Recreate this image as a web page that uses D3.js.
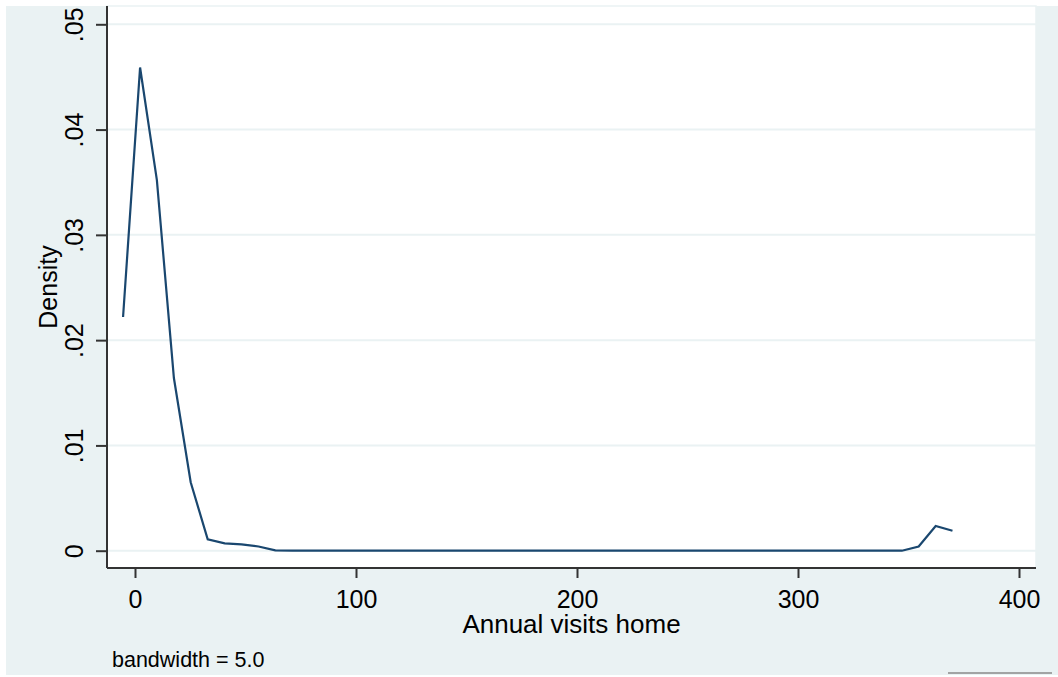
<!DOCTYPE html>
<html>
<head>
<meta charset="utf-8">
<script src="https://cdn.jsdelivr.net/npm/d3@7"></script>
<style>
    body { margin: 0; background: #ffffff; }
    text { font-family: "Liberation Sans", Arial, sans-serif; fill: #000000; }
</style>
</head>
<body>
<div class="chartCanvas"></div>
<script>
// kernel density evaluation points (annual visits home)
const visits = [
    -5.4, 2.3, 9.9, 17.6, 25.2, 32.9, 40.6, 48.2, 55.9, 63.5,
    71.2, 78.9, 86.5, 94.2, 101.8, 109.5, 117.2, 124.8, 132.5, 140.1,
    147.8, 155.5, 163.1, 170.8, 178.4, 186.1, 193.8, 201.4, 209.1, 216.7,
    224.4, 232.1, 239.7, 247.4, 255.0, 262.7, 270.4, 278.0, 285.7, 293.3,
    301.0, 308.7, 316.3, 324.0, 331.6, 339.3, 347.0, 354.6, 362.3, 369.9
];
const density = [
    0.0222, 0.0459, 0.0352, 0.0164, 0.0065, 0.00108, 0.0007, 0.0006, 0.0004, 0.00003,
    0, 0, 0, 0, 0, 0, 0, 0, 0, 0,
    0, 0, 0, 0, 0, 0, 0, 0, 0, 0,
    0, 0, 0, 0, 0, 0, 0, 0, 0, 0,
    0, 0, 0, 0, 0, 0, 0, 0.0004, 0.00235, 0.0019
];
const xTicks = [0, 100, 200, 300, 400];
const yTicks = [0, 0.01, 0.02, 0.03, 0.04, 0.05];
const yTickLabels = ["0", ".01", ".02", ".03", ".04", ".05"];
const xTitle = "Annual visits home";
const yTitle = "Density";
const note = "bandwidth = 5.0";

const W = 1058, H = 677;
const bg = "#eaf2f3";
const plot = {left: 107, right: 1036, top: 6, bottom: 568};

const svg = d3.select(".chartCanvas").append("svg")
    .attr("width", W)
    .attr("height", H);

// outer graph region + white plot region
svg.append("rect").attr("x", 6).attr("y", 6).attr("width", W - 6).attr("height", 669).attr("fill", bg);
svg.append("rect")
    .attr("x", plot.left).attr("y", plot.top)
    .attr("width", plot.right - plot.left).attr("height", plot.bottom - plot.top)
    .attr("fill", "#ffffff")
    .attr("stroke", bg).attr("stroke-width", 1.5);

const x = d3.scaleLinear().domain([0, 400]).range([135, 1019]);
const y = d3.scaleLinear().domain([0, 0.05]).range([550.7, 24.3]);

// gridlines
svg.append("g").selectAll("line").data(yTicks).join("line")
    .attr("x1", plot.left).attr("x2", plot.right)
    .attr("y1", d => y(d)).attr("y2", d => y(d))
    .attr("stroke", bg).attr("stroke-width", 2);

// density line
const line = d3.line().x((d, i) => x(visits[i])).y(d => y(d));
svg.append("path")
    .datum(density)
    .attr("d", line)
    .attr("fill", "none")
    .attr("stroke", "#1a476f")
    .attr("stroke-width", 2.2)
    .attr("stroke-linejoin", "miter");

// y axis
const yAxis = d3.axisLeft(y).tickValues(yTicks).tickSize(11).tickPadding(0)
    .tickFormat((d, i) => yTickLabels[i]);
const gy = svg.append("g").attr("transform", `translate(${plot.left},0)`).call(yAxis);
gy.select(".domain").attr("d", `M0,${plot.top}V${plot.bottom}`);
gy.selectAll("line").attr("stroke", "#333333").attr("stroke-width", 2);
gy.select(".domain").attr("stroke", "#333333").attr("stroke-width", 2);
gy.selectAll("text")
    .attr("x", 0).attr("y", 0).attr("dy", 0)
    .attr("transform", "translate(-24,0) rotate(-90)")
    .attr("text-anchor", "middle")
    .style("font-size", "25px")
    .style("font-family", "'Liberation Sans', Arial, sans-serif");

// x axis
const xAxis = d3.axisBottom(x).tickValues(xTicks).tickSize(10).tickPadding(0).tickFormat(d3.format("d"));
const gx = svg.append("g").attr("transform", `translate(0,${plot.bottom})`).call(xAxis);
gx.select(".domain").attr("d", `M${plot.left},0H${plot.right}`);
gx.selectAll("line").attr("stroke", "#333333").attr("stroke-width", 2);
gx.select(".domain").attr("stroke", "#333333").attr("stroke-width", 2);
gx.selectAll("text")
    .attr("y", 40).attr("dy", 0)
    .style("font-size", "25px")
    .style("font-family", "'Liberation Sans', Arial, sans-serif");

// titles
svg.append("text")
    .attr("x", (plot.left + plot.right) / 2).attr("y", 633)
    .attr("text-anchor", "middle")
    .style("font-size", "26px")
    .text(xTitle);

svg.append("text")
    .attr("transform", `translate(57,${(plot.top + plot.bottom) / 2}) rotate(-90)`)
    .attr("text-anchor", "middle")
    .style("font-size", "25px")
    .text(yTitle);

svg.append("text")
    .attr("x", 112).attr("y", 667)
    .style("font-size", "21.5px")
    .text(note);

// small rule at the bottom right corner
svg.append("line")
    .attr("x1", 948).attr("x2", 1052).attr("y1", 673).attr("y2", 673)
    .attr("stroke", "#8a8a8a").attr("stroke-width", 1.5);
</script>
</body>
</html>
